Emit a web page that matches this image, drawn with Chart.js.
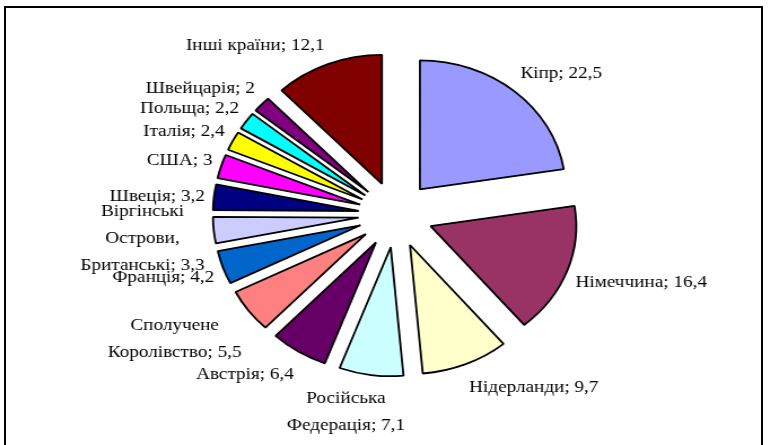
<!DOCTYPE html>
<html>
<head>
<meta charset="utf-8">
<script src="https://cdn.jsdelivr.net/npm/chart.js@4"></script>
<style>
    html, body { margin: 0; padding: 0; background: #fff; overflow: hidden; }
    #frame {
        position: absolute; left: 4px; top: 6px; width: 759px; height: 450px;
        box-sizing: border-box; border: 2px solid #000; border-bottom: none;
    }
    #wrap {
        position: absolute; left: 0; top: 0; width: 682px; height: 445px;
        transform: scaleX(1.129); transform-origin: 0 0;
    }
</style>
</head>
<body>
<div id="wrap"><canvas id="pie" width="682" height="445" style="width:682px;height:445px"></canvas></div>
<div id="frame"></div>
<script>
const countries = ['Кіпр', 'Німеччина', 'Нідерланди', ['Російська', 'Федерація'], 'Австрія',
    ['Сполучене', 'Королівство'], 'Франція', ['Віргінські', 'Острови,', 'Британські'], 'Швеція',
    'США', 'Італія', 'Польща', 'Швейцарія', 'Інші країни'];
const shares = [22.5, 16.4, 9.7, 7.1, 6.4, 5.5, 4.2, 3.3, 3.2, 3, 2.4, 2.2, 2, 12.1];
const sliceColors = ['#9999FF', '#993366', '#FFFFCC', '#CCFFFF', '#660066', '#FF8080', '#0066CC',
    '#CCCCFF', '#000080', '#FF00FF', '#FFFF00', '#00FFFF', '#800080', '#800000'];

const explode = 33;
const fontCss = '17px "Liberation Serif", "Times New Roman", serif';
const lineH = 27;

// every slice pulled out from the centre by the same distance, radius kept
const explodeSlices = {
    id: 'explodeSlices',
    afterDatasetsUpdate(chart) {
        chart.getDatasetMeta(0).data.forEach(arc => {
            arc.draw = function(ctx) {
                const mid = (this.startAngle + this.endAngle) / 2;
                ctx.save();
                ctx.translate(Math.cos(mid) * explode, Math.sin(mid) * explode);
                Chart.ArcElement.prototype.draw.call(this, ctx);
                ctx.restore();
            };
        });
    }
};

// labels "Назва; значення" outside each slice
const outsideLabels = {
    id: 'outsideLabels',
    afterDatasetsDraw(chart) {
        const ctx = chart.ctx;
        const arcs = chart.getDatasetMeta(0).data;
        ctx.save();
        ctx.font = fontCss;
        ctx.fillStyle = '#000';
        ctx.textBaseline = 'middle';
        ctx.textAlign = 'center';
        arcs.forEach((arc, i) => {
            const p = arc.getProps(['x', 'y', 'startAngle', 'endAngle', 'outerRadius'], true);
            const mid = (p.startAngle + p.endAngle) / 2;
            const r = p.outerRadius + explode + 8;
            const ax = p.x + Math.cos(mid) * r;
            const ay = p.y + Math.sin(mid) * r;

            let lines = Array.isArray(countries[i]) ? countries[i].slice() : [countries[i]];
            lines[lines.length - 1] += '; ' + String(shares[i]).replace('.', ',');
            const w = Math.max(...lines.map(t => ctx.measureText(t).width));
            const h = lines.length * lineH;

            const hs = Math.max(-1, Math.min(1, Math.cos(mid) * 3));
            const vs = Math.max(-1, Math.min(1, Math.sin(mid) * 1.3));
            const left = ax - w * (1 - hs) / 2;
            const top = ay - h * (1 - vs) / 2 + 2;
            lines.forEach((t, k) => {
                ctx.fillText(t, left + w / 2, top + lineH * (k + 0.5));
            });
        });
        ctx.restore();
    }
};

new Chart(document.getElementById('pie'), {
    type: 'pie',
    data: {
        labels: countries,
        datasets: [{
            data: shares,
            backgroundColor: sliceColors,
            borderColor: '#000',
            borderWidth: 1.8
        }]
    },
    options: {
        responsive: false,
        animation: false,
        events: [],
        radius: 129,
        layout: { padding: { left: 19, right: 0, top: 0, bottom: 16 } },
        plugins: {
            legend: { display: false },
            tooltip: { enabled: false }
        }
    },
    plugins: [explodeSlices, outsideLabels]
});
</script>
</body>
</html>
